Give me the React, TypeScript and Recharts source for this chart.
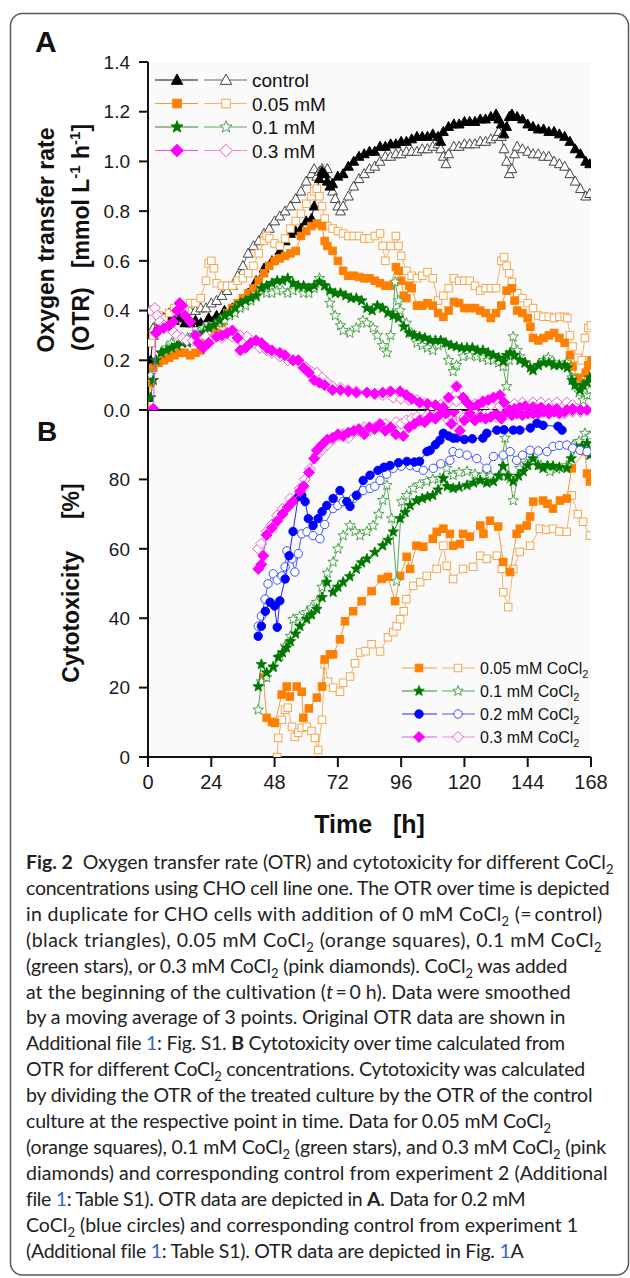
import React from 'react';
import { ScatterChart, Scatter, XAxis, YAxis } from 'recharts';

type P = [number, number];

// ---------- Panel A: OTR [mmol L-1 h-1] vs time [h] ----------
const otrControl1: P[] = [[0,0.05],[1,0.2],[2,0.3],[4,0.34],[6,0.37],[8,0.38],[10,0.36],[12,0.37],[14,0.35],[16,0.35],[18,0.36],[20,0.35],[23,0.37],[26,0.38],[29,0.4],[32,0.41],[35,0.43],[38,0.47],[41,0.52],[44,0.57],[47,0.6],[50,0.64],[52,0.68],[54,0.71],[56,0.72],[58,0.73],[60,0.76],[62,0.77],[63,0.82],[64,0.88],[65,0.93],[66,0.96],[67,0.95],[68,0.92],[69,0.9],[70,0.91],[72,0.94],[74,0.95],[76,0.98],[78,1.0],[80,1.02],[82,1.03],[84,1.04],[86,1.04],[88,1.06],[90,1.06],[92,1.07],[94,1.07],[96,1.08],[98,1.08],[100,1.09],[102,1.1],[104,1.1],[106,1.1],[108,1.11],[110,1.1],[111,1.08],[112,1.12],[114,1.14],[116,1.15],[118,1.15],[120,1.16],[122,1.16],[124,1.16],[126,1.17],[128,1.17],[130,1.18],[132,1.19],[133,1.17],[134,1.15],[135,1.11],[136,1.14],[137,1.18],[138,1.19],[140,1.18],[142,1.17],[144,1.15],[146,1.14],[148,1.13],[150,1.13],[152,1.12],[154,1.12],[156,1.11],[158,1.1],[160,1.08],[162,1.05],[164,1.03],[166,1.0],[167.5,0.99]];
const otrControl2: P[] = [[1,0.27],[2,0.33],[4,0.36],[6,0.37],[8,0.39],[10,0.38],[12,0.39],[14,0.38],[16,0.4],[18,0.4],[20,0.41],[22,0.41],[24,0.43],[26,0.44],[28,0.46],[30,0.48],[32,0.5],[34,0.54],[36,0.58],[38,0.63],[40,0.66],[42,0.68],[44,0.71],[46,0.73],[48,0.76],[50,0.78],[52,0.8],[54,0.82],[56,0.85],[58,0.88],[60,0.92],[62,0.95],[63,0.97],[64,0.94],[65,0.96],[66,0.97],[67,0.95],[68,0.97],[69,0.92],[70,0.88],[71,0.85],[72,0.82],[73,0.8],[74,0.82],[76,0.86],[78,0.9],[80,0.93],[82,0.95],[84,0.97],[86,0.98],[88,1.0],[90,1.02],[92,1.02],[94,1.03],[96,1.03],[98,1.04],[100,1.04],[102,1.04],[104,1.05],[106,1.05],[108,1.06],[110,1.07],[111,1.05],[112,1.02],[113,0.99],[114,1.03],[116,1.06],[118,1.06],[120,1.07],[122,1.07],[124,1.07],[126,1.08],[128,1.08],[130,1.09],[132,1.1],[133,1.12],[134,1.1],[135,1.05],[136,1.0],[137,0.95],[138,0.97],[139,1.03],[140,1.06],[142,1.05],[144,1.04],[146,1.03],[148,1.03],[150,1.02],[152,1.02],[154,1.0],[156,0.99],[158,0.98],[160,0.95],[162,0.92],[164,0.89],[166,0.86],[167.5,0.87]];
const otr005_1: P[] = [[0,0.0],[1,0.11],[2,0.17],[4,0.19],[6,0.2],[8,0.21],[10,0.22],[12,0.23],[14,0.23],[16,0.22],[18,0.23],[20,0.24],[22,0.27],[24,0.29],[26,0.31],[28,0.35],[30,0.39],[32,0.41],[34,0.43],[36,0.45],[38,0.47],[40,0.49],[42,0.52],[44,0.55],[46,0.58],[48,0.6],[50,0.61],[52,0.62],[54,0.63],[56,0.64],[58,0.7],[60,0.72],[62,0.74],[64,0.75],[66,0.74],[67,0.68],[68,0.66],[70,0.64],[72,0.6],[74,0.56],[76,0.54],[78,0.54],[80,0.535],[82,0.53],[84,0.53],[86,0.52],[88,0.51],[90,0.5],[92,0.5],[94,0.575],[95,0.56],[96,0.52],[97,0.46],[98,0.45],[99,0.5],[100,0.49],[102,0.42],[104,0.42],[106,0.43],[108,0.42],[110,0.39],[112,0.375],[114,0.4],[116,0.435],[118,0.43],[120,0.41],[122,0.41],[124,0.41],[126,0.4],[128,0.39],[130,0.37],[132,0.39],[134,0.42],[136,0.48],[138,0.49],[139,0.44],[140,0.4],[142,0.39],[144,0.37],[145,0.335],[146,0.29],[148,0.28],[150,0.29],[152,0.3],[154,0.31],[156,0.29],[158,0.27],[160,0.22],[161,0.175],[163,0.13],[165,0.11],[166,0.15],[167,0.18],[168,0.2]];
const otr005_2: P[] = [[1,0.27],[2,0.3],[4,0.38],[6,0.37],[8,0.39],[10,0.41],[12,0.42],[14,0.41],[16,0.43],[18,0.43],[20,0.45],[22,0.52],[23,0.59],[24,0.6],[25,0.57],[26,0.51],[28,0.5],[30,0.5],[32,0.5],[34,0.52],[36,0.53],[38,0.55],[40,0.58],[42,0.63],[44,0.68],[45,0.7],[46,0.69],[48,0.67],[50,0.66],[52,0.69],[54,0.73],[56,0.76],[58,0.79],[60,0.83],[62,0.86],[63,0.88],[64,0.89],[65,0.86],[66,0.82],[67,0.77],[68,0.74],[70,0.73],[72,0.72],[74,0.71],[76,0.7],[78,0.7],[80,0.7],[82,0.69],[84,0.69],[86,0.7],[88,0.71],[89,0.66],[90,0.6],[92,0.66],[94,0.7],[95,0.66],[96,0.62],[98,0.56],[100,0.54],[102,0.53],[104,0.54],[106,0.555],[108,0.53],[110,0.44],[112,0.46],[114,0.49],[116,0.53],[118,0.52],[120,0.52],[122,0.52],[124,0.5],[126,0.48],[128,0.49],[130,0.49],[132,0.49],[134,0.6],[135,0.615],[136,0.58],[137,0.55],[138,0.515],[140,0.47],[142,0.45],[144,0.43],[146,0.41],[148,0.38],[150,0.375],[152,0.375],[154,0.37],[156,0.375],[158,0.375],[159,0.37],[160,0.3],[161,0.255],[163,0.21],[164.5,0.2],[165.7,0.29],[167,0.33],[168,0.34]];
const otr01_1: P[] = [[1,0.05],[2,0.12],[3,0.2],[5,0.23],[7,0.24],[9,0.25],[11,0.26],[13,0.27],[15,0.27],[17,0.28],[19,0.29],[21,0.31],[23,0.33],[25,0.34],[27,0.36],[29,0.38],[31,0.39],[33,0.41],[35,0.43],[37,0.44],[39,0.45],[41,0.46],[43,0.49],[45,0.5],[47,0.51],[49,0.52],[51,0.52],[53,0.53],[55,0.51],[57,0.5],[59,0.5],[61,0.49],[63,0.5],[65,0.515],[67,0.5],[69,0.48],[71,0.47],[73,0.47],[75,0.46],[77,0.45],[79,0.45],[81,0.44],[83,0.41],[85,0.4],[87,0.42],[89,0.41],[91,0.39],[93,0.38],[95,0.37],[97,0.335],[99,0.31],[101,0.3],[103,0.295],[105,0.29],[107,0.28],[109,0.28],[111,0.28],[113,0.27],[115,0.26],[117,0.255],[119,0.25],[121,0.25],[123,0.25],[125,0.24],[127,0.24],[129,0.23],[131,0.22],[133,0.21],[134.7,0.195],[136,0.22],[137.3,0.23],[139,0.22],[141,0.2],[143,0.19],[145,0.17],[146,0.16],[148,0.18],[150,0.19],[152,0.19],[154,0.18],[156,0.18],[158,0.18],[159,0.17],[160.8,0.12],[162,0.1],[163.8,0.08],[165,0.1],[166.5,0.11],[167.6,0.13]];
const otr01_2: P[] = [[1,0.14],[3,0.2],[5,0.23],[7,0.25],[9,0.27],[11,0.28],[13,0.29],[15,0.29],[17,0.3],[19,0.31],[21,0.33],[23,0.335],[25,0.34],[27,0.35],[29,0.36],[31,0.38],[33,0.39],[35,0.41],[37,0.42],[39,0.44],[41,0.455],[43,0.48],[45,0.47],[47,0.47],[49,0.48],[51,0.48],[53,0.47],[55,0.48],[57,0.495],[59,0.47],[61,0.47],[63,0.49],[65,0.53],[67,0.5],[69,0.43],[71,0.38],[73,0.34],[74,0.32],[76.6,0.31],[79,0.33],[81.5,0.36],[83,0.35],[85.4,0.33],[87,0.3],[89,0.26],[90.6,0.23],[92,0.3],[93,0.39],[93.7,0.515],[95,0.44],[95.6,0.4],[98,0.35],[100,0.31],[102,0.27],[104,0.26],[106,0.25],[108,0.24],[110,0.26],[112,0.27],[114,0.2],[115.7,0.155],[117,0.18],[119.5,0.215],[122,0.22],[124.7,0.215],[127,0.21],[129,0.2],[131,0.2],[133,0.19],[134.7,0.175],[136,0.095],[137,0.2],[138.5,0.295],[140,0.24],[141,0.215],[143,0.19],[146,0.16],[148,0.18],[150,0.2],[151.8,0.21],[154,0.19],[156,0.18],[158.8,0.19],[160.8,0.13],[162,0.1],[163.5,0.07],[165,0.04],[166.5,0.06],[167.6,0.08]];
const otr03_1: P[] = [[2,0.005],[3,0.31],[4,0.32],[6,0.33],[8,0.34],[9.6,0.355],[11,0.4],[12,0.43],[13,0.42],[14,0.38],[16,0.355],[18,0.3],[19,0.27],[21,0.25],[23,0.27],[26,0.295],[28,0.3],[30,0.31],[32,0.32],[34,0.29],[35,0.24],[37,0.25],[39,0.27],[41,0.28],[43,0.27],[45,0.25],[47,0.24],[50,0.23],[52,0.22],[55,0.2],[57,0.2],[59,0.17],[61,0.15],[63,0.12],[65,0.11],[67,0.1],[70,0.08],[73,0.08],[76,0.075],[79,0.07],[83,0.07],[86,0.065],[89,0.07],[92,0.075],[95.6,0.075],[98,0.06],[100,0.045],[103,0.03],[106,0.025],[109,0.02],[112,0.01],[114,0.05],[117,0.095],[119.5,0.05],[121,0.03],[123,0.01],[125,0.02],[127,0.035],[129,0.04],[131,0.05],[133.5,0.06],[135,0.03],[137,0.0],[139,0.005],[141,0.01],[143,0.015],[146,0.012],[149,0.01],[152,0.005],[155,0.005],[158.8,0.0],[161,0.005],[164,0.0],[166.5,0.0]];
const otr03_2: P[] = [[1,0.4],[2.6,0.41],[3.5,0.38],[4.5,0.355],[6,0.34],[8,0.33],[9.6,0.315],[11,0.3],[13,0.29],[14.7,0.28],[17,0.28],[19,0.29],[22,0.295],[25,0.29],[28,0.29],[32,0.295],[35,0.3],[37.5,0.295],[40,0.27],[42.5,0.25],[45,0.24],[47,0.23],[50,0.215],[53,0.2],[55,0.2],[57.6,0.19],[60,0.17],[62,0.155],[64,0.15],[66,0.13],[68,0.11],[70,0.095],[73,0.09],[76,0.08],[79,0.075],[83,0.07],[86,0.065],[89,0.06],[93,0.05],[96,0.045],[99,0.04],[102,0.04],[105,0.025],[108,0.01],[111,0.02],[114,0.03],[117,0.035],[121,0.03],[124,0.025],[127,0.03],[130,0.02],[133.5,0.015],[136,0.02],[139,0.025],[142,0.03],[146,0.03],[149,0.03],[152,0.025],[155,0.03],[158.8,0.03],[161,0.02],[164,0.0]];

// ---------- Panel B: cytotoxicity [%] vs time [h] ----------
const cyt005_1: P[] = [[43.7,22.9],[45,11.3],[47,10.1],[48.2,9.8],[50.7,18],[52.6,20.3],[53.8,17.4],[56.4,20.3],[58.3,18.8],[58.9,11.3],[61,14],[64,17.1],[66,20.3],[67,28.1],[69,29.6],[70.2,29.6],[72.8,33.9],[74.7,39.1],[77.8,42],[81,44.9],[84.8,47.8],[88.6,51.3],[91,51.9],[93.7,44.9],[95.6,52.2],[98.1,57.7],[99.4,54.2],[101.8,60.9],[104.4,60.6],[108,62.9],[109.5,64.9],[112,65.8],[114.5,64.3],[115.7,60.9],[118.3,61.4],[119.5,64.3],[122,63.5],[126,66.7],[127.2,64.3],[129.7,68.1],[132.8,66.4],[134.7,56.2],[137.3,53.3],[139.8,64.3],[141,65.8],[143.6,66.7],[144.9,69.3],[146.1,73.6],[149.8,73.9],[151.5,73],[153.6,71.6],[156.2,73.9],[158.8,74.5],[160.7,83.2],[165.7,88.1],[166.5,81.7],[167.6,79.4]];
const cyt005_2: P[] = [[49,0],[49.4,5.5],[50.7,10.7],[52,13.6],[53,14.2],[54.6,8.7],[55.7,5.8],[57,7],[58.3,8.4],[60.2,8.7],[62,7.5],[63.3,5.5],[64.5,2.0],[66,10.7],[67,26.7],[68.3,21.7],[70.2,20],[72.8,18.8],[74,21.4],[76.6,23.2],[78.5,27],[80.4,30.1],[82.5,30.5],[84.8,32.5],[88,30.4],[91,34.5],[93,36],[94.3,37.7],[95.6,39.7],[97,42],[98,45.5],[100.6,49.3],[103.2,50.4],[105.7,52.2],[109.5,54.2],[112,60.9],[113.3,55.1],[115.7,51.3],[119.5,54.2],[123.3,54.8],[126,58],[128.5,57.1],[132.3,58],[134.2,54.2],[134.7,47.5],[136.6,43.2],[138.5,54.2],[141,59.1],[144.9,60.9],[148.6,65.8],[151,65.5],[153.6,65.8],[156,65],[158.8,64.9],[160.7,75.4],[163,70],[165,67.8],[167.6,63.8]];
const cyt01_1: P[] = [[41.8,20.3],[43,26.7],[45,24.3],[47.5,26],[49.4,28.7],[51,30.1],[52.5,31.5],[54,33.3],[56,35.5],[57.6,37.7],[60.2,39.7],[62,41],[64,42.6],[66,46],[67.8,50.4],[70.2,47.5],[72,49],[74,50.4],[76.5,52],[79,54.2],[81,56],[83,57.1],[86,59],[89,60.9],[91,62.5],[93,64.9],[95.6,68.7],[97.5,70.5],[99.4,72.5],[101.8,73.9],[104,74.5],[106,75],[108,75.4],[110,77],[112,80.3],[113.5,78],[115.7,77.4],[118,77.8],[121,78.3],[123.5,79],[126,79.7],[128.5,79],[131,79.4],[133,81],[134.7,83.8],[136.5,81],[138.5,79.4],[140.5,81],[142.3,82.3],[144,84],[146,86],[148,84],[149.8,83.2],[151.5,84],[153.6,83.8],[156,83.5],[158.8,83.2],[160.5,86],[162.6,89],[164.5,89.5],[166.5,90.4],[167.6,87]];
const cyt01_2: P[] = [[41.8,13.6],[43,21.7],[45,22.9],[47.5,25.8],[50,29],[52,32],[54,34.8],[55,39.7],[57.5,40.5],[60.2,41.7],[62,43],[64,44.6],[66,49],[68,53],[70.2,56.2],[72,60],[74,63.8],[76.6,66.7],[78.5,65],[80.4,63.8],[83,65],[85.4,66.7],[87.5,70],[89,74],[90.6,78.3],[92.4,68.7],[94.3,50.7],[96.2,73.6],[98.1,75.4],[100.6,77.4],[103,78.5],[105.7,79.4],[108,80],[110.7,80.3],[113.3,83.2],[115.7,81.2],[118,82],[121,82.3],[124,81.5],[127,81.2],[130,81],[133.5,81.2],[135.4,91.9],[137.3,80.3],[138.5,73.9],[141,83.2],[143.5,84.5],[146,85.2],[149,84],[152.4,82.3],[155,83],[158.8,84],[161.2,89.9],[163.5,91],[165.7,93.3],[167.6,92.5]];
const cyt02_1: P[] = [[41.8,34.8],[43,37.7],[44.5,42],[46.3,44.6],[48,43.5],[49,37.4],[50,45],[52,51.3],[53.5,58],[55,65],[57,75],[58.3,75.4],[59.6,73.6],[60.8,68.7],[62.6,66.7],[64.5,68.7],[66,70.7],[67.8,72.5],[70.2,74.5],[72.8,76.8],[75.4,73.6],[76.6,72.2],[79,75.4],[81.6,79.7],[84.2,81.2],[87.2,82.6],[89.5,83.5],[91.8,84],[95,84.8],[98.2,85.2],[101,85],[103,85.2],[105.8,88],[107,88.4],[109,90],[110.7,91.3],[112,93.3],[114,92.5],[115.7,91.9],[117,91.9],[120,91.5],[123,91.7],[127,91.9],[128.5,93.3],[132.3,94.2],[135,94.3],[138.5,94.2],[141,94.2],[145,94.8],[147.5,96.2],[149.8,95.6],[155.5,95.3],[157,94.2]];
const cyt02_2: P[] = [[41.8,37.7],[43,40.6],[44.4,45.5],[45.5,49.9],[47.5,52.8],[49,51],[50.8,52.2],[52,54.8],[52.7,59.4],[54.6,57.1],[55.7,53.3],[57,58.6],[58.3,64.3],[60.3,64.9],[62.6,63.8],[65.2,62.9],[67,67],[70.2,71.6],[72,72.5],[74,73.6],[77.8,74.5],[79.5,75.5],[81.6,76.8],[84.2,77.4],[86,78],[88,79.7],[90.5,81.5],[93,83.2],[96,83.8],[99.4,84],[102,83.5],[104.4,82.6],[108.2,83.2],[111,84.5],[114.5,85.5],[115.7,88],[118,87.5],[121,87],[124.7,86],[128.5,83.2],[131,86.6],[134.7,87],[137.3,88],[139.8,85.5],[142,87],[144.9,88.4],[148,88.2],[151.3,88],[153.6,89.5],[156,89.8],[158.8,89.9],[161,89],[163.8,88.4],[166.5,88]];
const cyt03_1: P[] = [[41.8,54.2],[43,55.5],[43.7,58],[45,64],[47,66],[49,68],[51,70],[53,72],[55,73.6],[57.6,76.5],[59,78],[61,82],[63,86],[64,88.4],[66,90],[68,91.5],[70,92],[72,93],[74,92.5],[76,93.5],[78,94],[80,94.5],[82,93],[84,95],[86,94.5],[88,96],[90,94],[92,95],[94,93],[96.8,92.5],[99,95],[101,96],[103,97],[105,96.5],[107,98],[109,97.5],[111,99],[112,100],[113,99],[115,96],[116,99.5],[118.3,94],[120,97],[122,99],[124,97],[126,98],[128,97.5],[130,98],[132,99],[134,97.5],[136,99.5],[138,98.5],[140,99],[142,98.5],[144,99],[146,99],[148,99],[150,99.5],[152,99],[154,99.5],[156,99],[158,99.5],[161,100],[164,100],[166.5,100]];
const cyt03_2: P[] = [[41.8,60],[43,61.5],[45,65],[47,67],[49,69.6],[51,71.5],[54,74.5],[57.6,77.4],[59.5,80],[61.4,83],[64,87],[66,88.5],[68,90],[70,91.5],[72,92.5],[74,93],[76,92],[78,93.5],[80,94],[82,95],[84,94],[86,95],[88,95.5],[90,96],[92,95],[94,96.5],[96,96],[98,97],[100,97.5],[102,98],[104,97],[106,98.5],[108,98],[110,99],[112,98.5],[114,97],[116,98.5],[118,99],[120,98],[122,98.5],[124,99],[126,98.5],[128,99],[130,99.5],[132,98],[134,99],[136,99.5],[138,98.5],[140,99],[143,99.5],[146,99],[149,99.5],[152,99],[155,99.5],[158,99],[161,99.5],[164,99.5]];

const timeTicks = [0, 24, 48, 72, 96, 120, 144, 168];
const otrTicks = [0, 0.2, 0.4, 0.6, 0.8, 1.0, 1.2, 1.4];
const cytTicks = [0, 20, 40, 60, 80];
const legendA = ['control', '0.05 mM', '0.1 mM', '0.3 mM'];
const legendB = ['0.05 mM CoCl', '0.1 mM CoCl', '0.2 mM CoCl', '0.3 mM CoCl'];

type Seg = { t: string; b?: boolean; i?: boolean; sub?: boolean; blue?: boolean };
const caption: Seg[][] = [
  [{ t: 'Fig. 2', b: true }, { t: '  Oxygen transfer rate (OTR) and cytotoxicity for different CoCl' }, { t: '2', sub: true }],
  [{ t: 'concentrations using CHO cell line one. The OTR over time is depicted' }],
  [{ t: 'in duplicate for CHO cells with addition of 0 mM CoCl' }, { t: '2', sub: true }, { t: ' (=\u2009control)' }],
  [{ t: '(black triangles), 0.05 mM CoCl' }, { t: '2', sub: true }, { t: ' (orange squares), 0.1 mM CoCl' }, { t: '2', sub: true }],
  [{ t: '(green stars), or 0.3 mM CoCl' }, { t: '2', sub: true }, { t: ' (pink diamonds). CoCl' }, { t: '2', sub: true }, { t: ' was added' }],
  [{ t: 'at the beginning of the cultivation (' }, { t: 't', i: true }, { t: '\u2009=\u20090 h). Data were smoothed' }],
  [{ t: 'by a moving average of 3 points. Original OTR data are shown in' }],
  [{ t: 'Additional file ' }, { t: '1', blue: true }, { t: ': Fig. S1. ' }, { t: 'B', b: true }, { t: ' Cytotoxicity over time calculated from' }],
  [{ t: 'OTR for different CoCl' }, { t: '2', sub: true }, { t: ' concentrations. Cytotoxicity was calculated' }],
  [{ t: 'by dividing the OTR of the treated culture by the OTR of the control' }],
  [{ t: 'culture at the respective point in time. Data for 0.05 mM CoCl' }, { t: '2', sub: true }],
  [{ t: '(orange squares), 0.1 mM CoCl' }, { t: '2', sub: true }, { t: ' (green stars), and 0.3 mM CoCl' }, { t: '2', sub: true }, { t: ' (pink' }],
  [{ t: 'diamonds) and corresponding control from experiment 2 (Additional' }],
  [{ t: 'file ' }, { t: '1', blue: true }, { t: ': Table S1). OTR data are depicted in ' }, { t: 'A', b: true }, { t: '. Data for 0.2 mM' }],
  [{ t: 'CoCl' }, { t: '2', sub: true }, { t: ' (blue circles) and corresponding control from experiment 1' }],
  [{ t: '(Additional file ' }, { t: '1', blue: true }, { t: ': Table S1). OTR data are depicted in Fig. ' }, { t: '1', blue: true }, { t: 'A' }],
];
const captionEnds = [614, 611, 604, 602, 568, 572, 566, 566, 586, 594, 552, 606, 608, 526, 578, 524];

// ---------- styles ----------
type Kind = 'tri' | 'sq' | 'star' | 'dia' | 'circ';
type Style = { kind: Kind; fill: string; stroke: string; line: string; size: number };

const ORANGE = '#ff7f00', ORANGE_L = '#f5a64e';
const GREEN = '#007800', GREEN_L = '#3d9a3d';
const BLUE = '#0000ff', BLUE_L = '#3a50ff';
const MAG = '#ff00ff', PINK = '#e85acb';

const stControl1: Style = { kind: 'tri', fill: '#000', stroke: '#000', line: '#111', size: 9 };
const stControl2: Style = { kind: 'tri', fill: '#fff', stroke: '#444', line: '#666', size: 9 };
const stO1: Style = { kind: 'sq', fill: ORANGE, stroke: ORANGE, line: '#f39a3a', size: 7.5 };
const stO2: Style = { kind: 'sq', fill: '#fff', stroke: ORANGE_L, line: '#f6b46a', size: 7.5 };
const stG1: Style = { kind: 'star', fill: GREEN, stroke: GREEN, line: '#2a8a2a', size: 5.5 };
const stG2: Style = { kind: 'star', fill: '#fff', stroke: GREEN_L, line: '#5aaa5a', size: 5.5 };
const stB1: Style = { kind: 'circ', fill: BLUE, stroke: BLUE, line: '#2222ff', size: 4.2 };
const stB2: Style = { kind: 'circ', fill: '#fff', stroke: BLUE_L, line: '#4a5cff', size: 4.2 };
const stM1: Style = { kind: 'dia', fill: MAG, stroke: MAG, line: '#f050f0', size: 5.5 };
const stM2: Style = { kind: 'dia', fill: '#fff', stroke: PINK, line: '#f08ae0', size: 5.5 };

const seriesA: { data: P[]; st: Style }[] = [
  { data: otrControl2, st: stControl2 },
  { data: otrControl1, st: stControl1 },
  { data: otr005_2, st: stO2 },
  { data: otr005_1, st: stO1 },
  { data: otr01_2, st: stG2 },
  { data: otr01_1, st: stG1 },
  { data: otr03_2, st: stM2 },
  { data: otr03_1, st: stM1 },
];
const seriesB: { data: P[]; st: Style }[] = [
  { data: cyt005_2, st: stO2 },
  { data: cyt005_1, st: stO1 },
  { data: cyt01_2, st: stG2 },
  { data: cyt01_1, st: stG1 },
  { data: cyt02_2, st: stB2 },
  { data: cyt02_1, st: stB1 },
  { data: cyt03_2, st: stM2 },
  { data: cyt03_1, st: stM1 },
];

function Marker({ kind, cx, cy, fill, stroke, size }: { kind: Kind; cx: number; cy: number; fill: string; stroke: string; size: number }) {
  const sw = 1;
  if (kind === 'tri') {
    const h = size;
    const pts = `${cx},${cy - h * 0.58} ${cx + h * 0.55},${cy + h * 0.42} ${cx - h * 0.55},${cy + h * 0.42}`;
    return <polygon points={pts} fill={fill} stroke={stroke} strokeWidth={sw} />;
  }
  if (kind === 'sq') {
    return <rect x={cx - size / 2} y={cy - size / 2} width={size} height={size} fill={fill} stroke={stroke} strokeWidth={sw} />;
  }
  if (kind === 'dia') {
    const r = size;
    const pts = `${cx},${cy - r} ${cx + r},${cy} ${cx},${cy + r} ${cx - r},${cy}`;
    return <polygon points={pts} fill={fill} stroke={stroke} strokeWidth={sw} />;
  }
  if (kind === 'circ') {
    return <circle cx={cx} cy={cy} r={size} fill={fill} stroke={stroke} strokeWidth={sw} />;
  }
  const pts: string[] = [];
  for (let k = 0; k < 10; k++) {
    const r = k % 2 === 0 ? size : size * 0.42;
    const a = -Math.PI / 2 + (k * Math.PI) / 5;
    pts.push(`${(cx + r * Math.cos(a)).toFixed(2)},${(cy + r * Math.sin(a)).toFixed(2)}`);
  }
  return <polygon points={pts.join(' ')} fill={fill} stroke={stroke} strokeWidth={0.9} />;
}

const toXY = (a: P[]) => a.map(([x, y]) => ({ x, y }));
const AX = { stroke: '#111', strokeWidth: 2 };
const TICKFONT = { fontSize: 19, fill: '#1a1a1a', fontFamily: '"Liberation Sans", Arial, sans-serif' };

function renderSeries(list: { data: P[]; st: Style }[], prefix: string) {
  return list.map((s, i) => (
    <Scatter
      key={prefix + i}
      data={toXY(s.data)}
      xAxisId="x"
      yAxisId="y"
      isAnimationActive={false}
      line={{ stroke: s.st.line, strokeWidth: 1 }}
      lineType="joint"
      shape={(p: any) => (
        <Marker kind={s.st.kind} cx={p.cx} cy={p.cy} fill={s.st.fill} stroke={s.st.stroke} size={s.st.size} />
      )}
    />
  ));
}

function ChartA() {
  return (
    <ScatterChart width={630} height={420} margin={{ top: 62, right: 39, bottom: 0, left: 88 }}>
      <XAxis xAxisId="x" dataKey="x" type="number" domain={[0, 168]} ticks={timeTicks} tick={false}
        tickSize={10} axisLine={AX} tickLine={AX} height={10} allowDataOverflow />
      <XAxis xAxisId="top" orientation="top" type="number" domain={[0, 168]} tick={false} tickLine={false}
        axisLine={AX} height={0} />
      <YAxis yAxisId="y" dataKey="y" type="number" domain={[0, 1.4]} ticks={otrTicks}
        tickFormatter={(v: number) => v.toFixed(1)} width={60} tickSize={9} tickMargin={9}
        tick={TICKFONT} axisLine={AX} tickLine={AX} allowDataOverflow interval={0} />
      <YAxis yAxisId="right" orientation="right" type="number" domain={[0, 1.4]} tick={false} tickLine={false}
        axisLine={AX} width={0} />
      {renderSeries(seriesA, 'a')}
    </ScatterChart>
  );
}

function ChartB() {
  return (
    <ScatterChart width={630} height={420} margin={{ top: 10, right: 39, bottom: 23, left: 88 }}>
      <XAxis xAxisId="x" dataKey="x" type="number" domain={[0, 168]} ticks={timeTicks}
        tick={{ ...TICKFONT, fontSize: 20 }} tickSize={10} tickMargin={8} axisLine={AX} tickLine={AX}
        height={40} allowDataOverflow interval={0} />
      <YAxis yAxisId="y" dataKey="y" type="number" domain={[0, 100]} ticks={cytTicks} width={60}
        tickSize={9} tickMargin={9} tick={TICKFONT} axisLine={AX} tickLine={AX} allowDataOverflow interval={0} />
      <YAxis yAxisId="right" orientation="right" type="number" domain={[0, 100]} tick={false} tickLine={false}
        axisLine={AX} width={0} />
      {renderSeries(seriesB, 'b')}
    </ScatterChart>
  );
}

const legendStylesA: [Style, Style][] = [[stControl1, stControl2], [stO1, stO2], [stG1, stG2], [stM1, stM2]];
const legendStylesB: [Style, Style][] = [[stO1, stO2], [stG1, stG2], [stB1, stB2], [stM1, stM2]];

const CAP_FONT = 'Lato';
const CAP_SIZE = 19.5;
const SUB_SIZE = 13;
let measureCtx: CanvasRenderingContext2D | null = null;
function measure(text: string, seg: Seg): number {
  if (!measureCtx) {
    const c = document.createElement('canvas');
    measureCtx = c.getContext('2d');
  }
  if (!measureCtx) return text.length * CAP_SIZE * 0.5;
  const size = seg.sub ? SUB_SIZE : CAP_SIZE;
  measureCtx.font = `${seg.i ? 'italic ' : ''}${seg.b ? 700 : 400} ${size}px ${CAP_FONT}`;
  return measureCtx.measureText(text).width;
}

function Caption() {
  return (
    <g fontFamily={`${CAP_FONT}, 'Open Sans', sans-serif`} fontSize={CAP_SIZE} fill="#222">
      {caption.map((line, li) => {
        const y = 869 + li * 25.9;
        const natural = line.reduce((acc, s) => acc + measure(s.t, s), 0);
        const chars = line.reduce((acc, s) => acc + s.t.length, 0);
        const ls = (captionEnds[li] - 26 - natural) / chars;
        let prevSub = false;
        return (
          <text key={li} x={26} y={y} letterSpacing={ls.toFixed(3)} style={{ whiteSpace: 'pre' }}>
            {line.map((s, si) => {
              let dy = 0;
              if (s.sub && !prevSub) dy = 5;
              if (!s.sub && prevSub) dy = -5;
              prevSub = !!s.sub;
              return (
                <tspan key={si} dy={dy || undefined} fontWeight={s.b ? 700 : 400} fontStyle={s.i ? 'italic' : 'normal'}
                  fill={s.blue ? '#3b63c8' : '#222'} fontSize={s.sub ? SUB_SIZE : CAP_SIZE}>
                  {s.t}
                </tspan>
              );
            })}
          </text>
        );
      })}
    </g>
  );
}

export default function App() {
  const titleFont = '"Liberation Sans", Arial, sans-serif';
  return (
    <div style={{ position: 'relative', width: 630, height: 1278, background: '#fff', overflow: 'hidden' }}>
      <style>{'body{margin:0}'}</style>
      <svg width={630} height={1278} style={{ position: 'absolute', left: 0, top: 0 }}>
        <rect x={10.5} y={13.5} width={618} height={1261.5} rx={12} fill="#fff" stroke="#5a5a5a" strokeWidth={1.5} />
        <rect x={148} y={62} width={443} height={695} fill="#fafafa" />
      </svg>
      <div style={{ position: 'absolute', left: 0, top: 0 }}>
        <ChartA />
      </div>
      <div style={{ position: 'absolute', left: 0, top: 400 }}>
        <ChartB />
      </div>
      <svg width={630} height={1278} style={{ position: 'absolute', left: 0, top: 0, pointerEvents: 'none' }}>
        <g fontFamily={titleFont} fontWeight={700} fill="#111">
          <text x={35} y={52} fontSize={30}>A</text>
          <text x={37} y={441} fontSize={28}>B</text>
          <text transform="translate(54,240) rotate(-90)" textAnchor="middle" fontSize={23}>Oxygen transfer rate</text>
          <text transform="translate(88.5,237.5) rotate(-90)" textAnchor="middle" fontSize={23} style={{ whiteSpace: 'pre' }}>
            <tspan>(OTR)   [mmol L</tspan>
            <tspan fontSize={15} dy={-9}>-1</tspan>
            <tspan dy={9}> h</tspan>
            <tspan fontSize={15} dy={-9}>-1</tspan>
            <tspan dy={9}>]</tspan>
          </text>
          <text transform="translate(79,583) rotate(-90)" textAnchor="middle" fontSize={23} style={{ whiteSpace: 'pre' }}>Cytotoxicity     [%]</text>
          <text x={369.5} y={833} textAnchor="middle" fontSize={25} style={{ whiteSpace: 'pre' }}>Time   [h]</text>
        </g>
        <g fontFamily={titleFont} fill="#111">
          {legendA.map((lab, i) => {
            const y = 80 + i * 23.5;
            const [f, o] = legendStylesA[i];
            return (
              <g key={lab}>
                <line x1={155} x2={198} y1={y} y2={y} stroke={f.line} strokeWidth={1} />
                <line x1={204} x2={247} y1={y} y2={y} stroke={o.line} strokeWidth={1} />
                <Marker kind={f.kind} cx={177} cy={y} fill={f.fill} stroke={f.stroke} size={f.size * 1.15} />
                <Marker kind={o.kind} cx={226} cy={y} fill={o.fill} stroke={o.stroke} size={o.size * 1.15} />
                <text x={252} y={y + 7} fontSize={19}>{lab}</text>
              </g>
            );
          })}
          {legendB.map((lab, i) => {
            const y = 668 + i * 23;
            const [f, o] = legendStylesB[i];
            return (
              <g key={lab + i}>
                <line x1={402} x2={437} y1={y} y2={y} stroke={f.line} strokeWidth={1} />
                <line x1={442} x2={475} y1={y} y2={y} stroke={o.line} strokeWidth={1} />
                <Marker kind={f.kind} cx={419} cy={y} fill={f.fill} stroke={f.stroke} size={f.size} />
                <Marker kind={o.kind} cx={458} cy={y} fill={o.fill} stroke={o.stroke} size={o.size} />
                <text x={480} y={y + 6} fontSize={16}>
                  {lab}
                  <tspan fontSize={11} dy={4}>2</tspan>
                </text>
              </g>
            );
          })}
        </g>
        <Caption />
      </svg>
    </div>
  );
}
